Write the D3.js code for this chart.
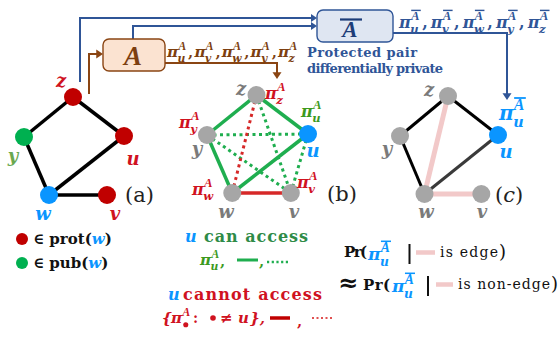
<!DOCTYPE html>
<html><head><meta charset="utf-8">
<script src="https://cdn.jsdelivr.net/npm/d3@7"></script>
<style>
html,body{margin:0;padding:0;background:#fff;}
svg{display:block;}
.rm{font-family:'DejaVu Serif','Liberation Serif',serif;font-weight:bold;}
.mi{font-family:'DejaVu Serif','Liberation Serif',serif;font-weight:bold;font-style:italic;}
.up{font-family:'DejaVu Serif','Liberation Serif',serif;font-weight:normal;}
.cal{font-family:'Liberation Serif','DejaVu Serif',serif;font-weight:bold;font-style:italic;}
</style>
</head><body>
<svg id="fig" width="558" height="337"></svg>
<script>
// ---- graph data ----
const nodeNames = ["z", "y", "u", "w", "v"];
const graphEdges = [["z","y"], ["z","u"], ["y","w"], ["w","u"], ["w","v"]];
const protNodes = ["z", "u", "v"];      // protected neighbours of w
const pubNodes = ["y"];                 // public neighbours of w
const owner = "w";
const querier = "u";
// panel (b): what u sees
const accessSolid = [["z","y"], ["z","u"], ["y","w"], ["w","u"]];
const hiddenSolid = [["w","v"]];
const accessDotted = [["y","u"], ["y","v"], ["z","v"], ["u","v"]];
const hiddenDotted = [["z","w"]];
const piColorsB = {z:"red", y:"red", u:"green", w:"red", v:"red"};
// panel (c): released view
const visibleEdges = [["z","y"], ["z","u"], ["y","w"]];
const queryEdges = [["w","u"]];
const protectedPairs = [["z","w"], ["w","v"]];
const releaseOrder = ["u", "v", "w", "y", "z"];
const panelLabels = ["(a)", "(b)", "(c)"];
const ALG = "A";

// ---- palette ----
const C = {
  red: "#c00000", redText: "#d0121f", green: "#00b050", greenLine: "#1fae4f",
  greenText: "#2e8b47", piGreen: "#3c9a1e", blue: "#0a95ff", gray: "#a6a6a6",
  grayText: "#7a7a7a", brown: "#8a4513", brownText: "#7d3f10", brownFill: "#fbe3d1",
  navy: "#2f5597", navyFill: "#dfe6f2", pink: "#f2c9c9", yMuted: "#6aa84f"
};

const svg = d3.select("#fig");
svg.append("rect").attr("width", 558).attr("height", 337).attr("fill", "#fff");

// shared pentagon-with-tail layout (unit coordinates)
const layout = {z:[49,0], y:[0,40], u:[100,39], w:[25,98], v:[83,98]};
function panelScales(x0, x1, y0, y1) {
  return {
    x: d3.scaleLinear().domain([0, 100]).range([x0, x1]),
    y: d3.scaleLinear().domain([0, 98]).range([y0, y1])
  };
}
const SA = panelScales(24, 124, 97, 195);
const SB = panelScales(207, 308, 95, 193);
const SC = panelScales(400, 498, 96, 194);
const P = (s, n) => [s.x(layout[n][0]), s.y(layout[n][1])];

function drawEdges(g, s, list, color, width, dash) {
  g.selectAll(null).data(list).join("line")
    .attr("x1", d => P(s, d[0])[0]).attr("y1", d => P(s, d[0])[1])
    .attr("x2", d => P(s, d[1])[0]).attr("y2", d => P(s, d[1])[1])
    .attr("stroke", color).attr("stroke-width", width)
    .attr("stroke-dasharray", dash || null);
}
function drawNodes(g, s, fillFn, r) {
  g.selectAll(null).data(nodeNames).join("circle")
    .attr("cx", d => P(s, d)[0]).attr("cy", d => P(s, d)[1])
    .attr("r", r).attr("fill", fillFn);
}
function txt(g, x, y, str, cls, size, color, anchor) {
  return g.append("text").attr("x", x).attr("y", y).attr("class", cls)
    .attr("font-size", size).attr("fill", color)
    .attr("text-anchor", anchor || "start").text(str);
}
function arrowHead(g, x, y, dir, color, s) {
  s = s || 5;
  const pts = dir === "right" ? [[x, y], [x - s*1.5, y - s], [x - s*1.5, y + s]]
                              : [[x, y], [x - s, y - s*1.5], [x + s, y - s*1.5]];
  g.append("path").attr("d", d3.line()(pts) + "Z").attr("fill", color);
}
// π with stacked superscript A (optionally barred) and subscript
function piSym(g, x, y, sub, o) {
  const size = o.size, color = o.color, ss = size * 0.72;
  const t = txt(g, x, y, "π", "mi", size, color);
  const w = t.node().getComputedTextLength();
  const supY = y - size * 0.48;
  const sup = txt(g, x + w + 0.2, supY, ALG, "cal", size * 0.8, color);
  const supW = sup.node().getComputedTextLength();
  let subW;
  if (sub === "•") {
    g.append("circle").attr("cx", x + w + ss*0.35).attr("cy", y + size*0.12).attr("r", size*0.17).attr("fill", color);
    subW = ss * 0.7;
  } else {
    const sb = txt(g, x + w - 0.5, y + size * 0.33, sub, "mi", ss, color);
    subW = sb.node().getComputedTextLength();
  }
  if (o.bar) {
    const by = supY - size * 0.62;
    g.append("line").attr("x1", x + w + 0.5).attr("x2", x + w + supW + 1.5)
      .attr("y1", by).attr("y2", by).attr("stroke", color).attr("stroke-width", size*0.09);
  }
  return w + Math.max(supW, subW);
}
function piList(g, x0, x1, y, names, o) {
  // measure, then spread evenly between x0 and x1
  const tmp = g.append("g").attr("opacity", 0);
  const ws = names.map(n => piSym(tmp, 0, 0, n, o));
  tmp.remove();
  const total = d3.sum(ws);
  const gap = (x1 - x0 - total) / (names.length - 1);
  let x = x0;
  names.forEach((n, i) => {
    piSym(g, x, y, n, o);
    x += ws[i];
    if (i < names.length - 1) {
      txt(g, x + gap * 0.25, y, ",", "rm", o.size, o.color);
      x += gap;
    }
  });
}

// ---------- flow arrows and mechanism boxes ----------
const flow = svg.append("g").attr("fill", "none");
flow.append("path").attr("d", "M89,94V54H98").attr("stroke", C.brown).attr("stroke-width", 2);
arrowHead(svg, 103, 54, "right", C.brown, 4.5);
flow.append("path").attr("d", "M80,82V18H312").attr("stroke", C.navy).attr("stroke-width", 2);
arrowHead(svg, 317, 18, "right", C.navy, 4);
flow.append("path").attr("d", "M133,39V26H312").attr("stroke", C.navy).attr("stroke-width", 2);
arrowHead(svg, 317, 26, "right", C.navy, 4);
flow.append("path").attr("d", "M165,63H277V73").attr("stroke", C.brown).attr("stroke-width", 2);
arrowHead(svg, 277, 79, "down", C.brown, 4.5);
flow.append("path").attr("d", "M393,33H507V94").attr("stroke", C.navy).attr("stroke-width", 2);
arrowHead(svg, 507, 100, "down", C.navy, 4.5);

svg.append("rect").attr("x", 103).attr("y", 39).attr("width", 62).attr("height", 32).attr("rx", 6)
  .attr("fill", C.brownFill).attr("stroke", C.brown).attr("stroke-width", 1.4);
txt(svg, 133, 65, ALG, "cal", 27, C.brownText, "middle");
svg.append("rect").attr("x", 317).attr("y", 10).attr("width", 76).attr("height", 32).attr("rx", 6)
  .attr("fill", C.navyFill).attr("stroke", C.navy).attr("stroke-width", 1.4);
txt(svg, 350, 37, ALG, "cal", 23, "#1d3d78", "middle");
svg.append("line").attr("x1", 340).attr("x2", 362).attr("y1", 19.5).attr("y2", 19.5)
  .attr("stroke", "#1d3d78").attr("stroke-width", 2.2);

piList(svg, 167, 297, 57, releaseOrder, {size: 15, color: C.brownText});
piList(svg, 399, 548, 28, releaseOrder, {size: 16, color: C.navy, bar: true});
txt(svg, 307, 57, "Protected pair", "rm", 13, C.navy).attr("textLength", 110);
txt(svg, 307, 73, "differentially private", "rm", 13, C.navy).attr("textLength", 136);

// ---------- panel (a) ----------
const ga = svg.append("g");
drawEdges(ga, SA, graphEdges, "#000", 3.5);
drawNodes(ga, SA, d => d === owner ? C.blue : (protNodes.includes(d) ? C.red : C.green), 9);
txt(ga, 61, 87, "z", "mi", 18, C.redText, "middle");
txt(ga, 13, 162, "y", "mi", 18, C.yMuted, "middle");
txt(ga, 133, 165, "u", "mi", 18, C.redText, "middle");
txt(ga, 43, 220, "w", "mi", 18, C.blue, "middle");
txt(ga, 115, 220, "v", "mi", 18, C.redText, "middle");
txt(ga, 125, 202, panelLabels[0], "up", 21, "#222");
ga.append("circle").attr("cx", 22).attr("cy", 239).attr("r", 6).attr("fill", C.red);
ga.append("circle").attr("cx", 22).attr("cy", 263).attr("r", 6).attr("fill", C.green);
const l1 = txt(ga, 33, 244, "∈ prot(", "rm", 15, "#111");
l1.append("tspan").attr("class", "mi").attr("fill", C.blue).text("w");
l1.append("tspan").text(")");
const l2 = txt(ga, 33, 268, "∈ pub(", "rm", 15, "#111");
l2.append("tspan").attr("class", "mi").attr("fill", C.blue).text("w");
l2.append("tspan").text(")");

// ---------- panel (b) ----------
const gb = svg.append("g");
drawEdges(gb, SB, accessDotted, C.greenLine, 3, "3,3.5");
drawEdges(gb, SB, hiddenDotted, "#d62828", 3, "3,3.5");
drawEdges(gb, SB, accessSolid, C.greenLine, 3.5);
drawEdges(gb, SB, hiddenSolid, "#d62828", 3.5);
drawNodes(gb, SB, d => d === querier ? C.blue : C.gray, 9);
txt(gb, 241, 95, "z", "mi", 18, C.grayText, "middle");
txt(gb, 197, 155, "y", "mi", 18, C.grayText, "middle");
txt(gb, 313, 157, "u", "mi", 18, C.blue, "middle");
txt(gb, 226, 218, "w", "mi", 18, C.grayText, "middle");
txt(gb, 294, 218, "v", "mi", 18, C.grayText, "middle");
const piPos = {z:[265,99], y:[179,128], u:[301,117], w:[192,195], v:[297,188]};
nodeNames.forEach(n => piSym(gb, piPos[n][0], piPos[n][1], n,
  {size: 16, color: piColorsB[n] === "green" ? C.piGreen : C.redText}));
txt(gb, 327, 201, panelLabels[1], "up", 21, "#222");

// ---------- panel (c) ----------
const gc = svg.append("g");
drawEdges(gc, SC, protectedPairs, C.pink, 5);
drawEdges(gc, SC, visibleEdges, "#000", 3);
drawEdges(gc, SC, queryEdges, "#3a3a3a", 3);
drawNodes(gc, SC, d => d === querier ? C.blue : C.gray, 9);
txt(gc, 429, 96, "z", "mi", 18, C.grayText, "middle");
txt(gc, 387, 155, "y", "mi", 18, C.grayText, "middle");
txt(gc, 506, 158, "u", "mi", 18, C.blue, "middle");
txt(gc, 426, 218, "w", "mi", 18, C.grayText, "middle");
txt(gc, 482, 218, "v", "mi", 18, C.grayText, "middle");
piSym(gc, 499, 120, "u", {size: 20, color: C.blue, bar: true});
const lc = txt(gc, 495, 202, "(", "up", 21, "#222");
lc.append("tspan").attr("font-style", "italic").text("c");
lc.append("tspan").text(")");

// ---------- access legend ----------
const gl = svg.append("g");
txt(gl, 185, 242, "u", "mi", 16, C.blue);
txt(gl, 204, 242, "can access", "rm", 16, C.greenText).attr("textLength", 104);
let xw = piSym(gl, 200, 265, "u", {size: 15, color: C.piGreen});
txt(gl, 200 + xw + 1, 266, ",", "rm", 15, C.piGreen);
gl.append("line").attr("x1", 237).attr("x2", 258).attr("y1", 260).attr("y2", 260)
  .attr("stroke", C.greenLine).attr("stroke-width", 3);
txt(gl, 259, 266, ",", "rm", 15, C.piGreen);
gl.append("line").attr("x1", 267).attr("x2", 289).attr("y1", 262).attr("y2", 262)
  .attr("stroke", C.greenLine).attr("stroke-width", 2.5).attr("stroke-dasharray", "2.2,2.5");

txt(gl, 168, 300, "u", "mi", 16, C.blue);
txt(gl, 183, 300, "cannot access", "rm", 16, C.redText).attr("textLength", 139);
txt(gl, 162, 323, "{", "mi", 15, C.redText);
xw = piSym(gl, 171, 323, "•", {size: 15, color: C.redText});
txt(gl, 171 + xw + 3, 323, ":", "rm", 14, C.redText);
gl.append("circle").attr("cx", 213).attr("cy", 318).attr("r", 2.8).attr("fill", C.redText);
txt(gl, 220, 323, "≠", "rm", 15, C.redText);
txt(gl, 238, 323, "u", "mi", 15, C.redText);
txt(gl, 250, 323, "},", "mi", 15, C.redText);
gl.append("line").attr("x1", 270).attr("x2", 290).attr("y1", 318).attr("y2", 318)
  .attr("stroke", C.red).attr("stroke-width", 3.5);
txt(gl, 297, 326, ",", "rm", 15, C.redText);
gl.append("line").attr("x1", 312).attr("x2", 332).attr("y1", 318).attr("y2", 318)
  .attr("stroke", "#e05050").attr("stroke-width", 2).attr("stroke-dasharray", "2,2.5");

// ---------- privacy guarantee ----------
const gp = svg.append("g");
txt(gp, 344, 257, "Pr(", "rm", 15, "#111").attr("textLength", 23);
piSym(gp, 368, 260, "u", {size: 17, color: C.blue, bar: true});
gp.append("line").attr("x1", 409.5).attr("x2", 409.5).attr("y1", 244).attr("y2", 264)
  .attr("stroke", "#111").attr("stroke-width", 2);
gp.append("line").attr("x1", 416).attr("x2", 435).attr("y1", 252.5).attr("y2", 252.5)
  .attr("stroke", C.pink).attr("stroke-width", 4.5);
txt(gp, 440, 257, "is edge", "up", 14, "#111").attr("textLength", 58);
txt(gp, 499, 258, ")", "up", 18, "#111");
txt(gp, 338, 291, "≈", "rm", 24, "#111");
txt(gp, 363, 290, "Pr(", "rm", 15, "#111").attr("textLength", 27);
piSym(gp, 392, 292, "u", {size: 17, color: C.blue, bar: true});
gp.append("line").attr("x1", 428).attr("x2", 428).attr("y1", 276).attr("y2", 296)
  .attr("stroke", "#111").attr("stroke-width", 2);
gp.append("line").attr("x1", 436).attr("x2", 453).attr("y1", 284.5).attr("y2", 284.5)
  .attr("stroke", C.pink).attr("stroke-width", 4.5);
txt(gp, 458, 289, "is non-edge", "up", 14, "#111").attr("textLength", 92);
txt(gp, 551, 290, ")", "up", 18, "#111");
</script>
</body></html>
